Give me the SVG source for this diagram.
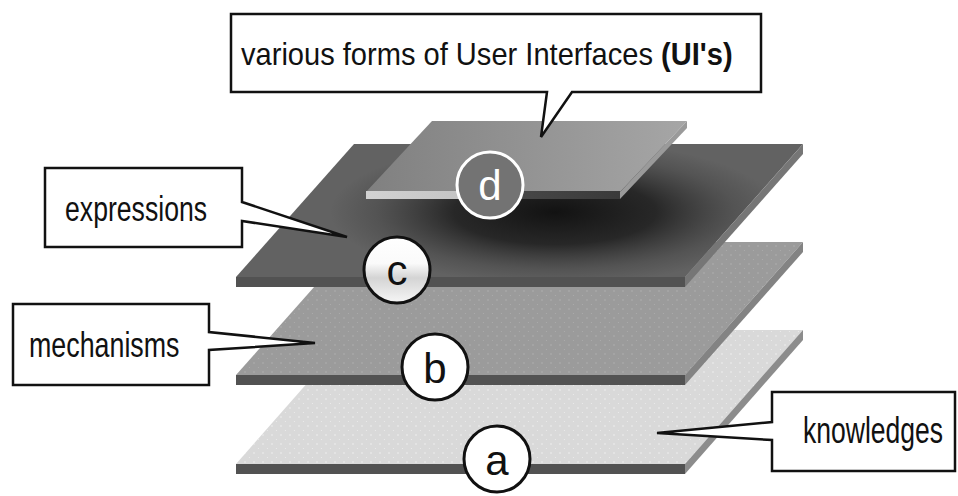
<svg xmlns="http://www.w3.org/2000/svg" width="958" height="496" viewBox="0 0 958 496">
  <defs>
    <style>
      .callout { fill: #ffffff; stroke: #111111; stroke-width: 2.5; stroke-linejoin: miter; }
      .label { font-family: "Liberation Sans", Arial, sans-serif; font-size: 36px; fill: #111111; }
      .toplabel { font-family: "Liberation Sans", Arial, sans-serif; font-size: 31px; fill: #111111; }
      .badge { stroke: #111111; stroke-width: 3; fill: #ffffff; }
      .badge-text { font-family: "Liberation Sans", Arial, sans-serif; font-size: 42px; fill: #111111; text-anchor: middle; }
      .front { fill: #525252; }
    </style>
    <linearGradient id="topD" x1="0" y1="0" x2="1" y2="0">
      <stop offset="0" stop-color="#808080"/>
      <stop offset="1" stop-color="#a6a6a6"/>
    </linearGradient>
    <linearGradient id="edgeD" x1="366" y1="0" x2="620" y2="0" gradientUnits="userSpaceOnUse">
      <stop offset="0" stop-color="#d2d2d2"/>
      <stop offset="0.38" stop-color="#c4c4c4"/>
      <stop offset="0.5" stop-color="#4a4a4a"/>
      <stop offset="1" stop-color="#3a3a3a"/>
    </linearGradient>
    <linearGradient id="badgeC" x1="0" y1="0" x2="0" y2="1">
      <stop offset="0" stop-color="#ffffff"/>
      <stop offset="0.4" stop-color="#fafafa"/>
      <stop offset="0.62" stop-color="#d4d4d4"/>
      <stop offset="1" stop-color="#f6f6f6"/>
    </linearGradient>
    <!-- shade cast by plate d onto plate c -->
    <radialGradient id="shade" gradientUnits="userSpaceOnUse" cx="0" cy="0" r="1"
                    gradientTransform="translate(555,212) scale(225,72)">
      <stop offset="0" stop-color="#0e0e0e" stop-opacity="0.95"/>
      <stop offset="0.45" stop-color="#141414" stop-opacity="0.75"/>
      <stop offset="0.8" stop-color="#2a2a2a" stop-opacity="0.25"/>
      <stop offset="1" stop-color="#2a2a2a" stop-opacity="0"/>
    </radialGradient>
    <pattern id="stipple" width="9" height="9" patternUnits="userSpaceOnUse">
      <circle cx="2" cy="3" r="0.7" fill="#ffffff" opacity="0.7"/>
      <circle cx="6.5" cy="7.5" r="0.6" fill="#ffffff" opacity="0.5"/>
    </pattern>
  </defs>

  <!-- layer a -->
  <g id="plate-a">
    <polygon points="236,464 685,464 803,330 354,330" fill="#d9d9d9"/>
    <polygon points="236,464 685,464 803,330 354,330" fill="url(#stipple)"/>
    <polygon class="front" points="236,464 685,464 685,474 236,474"/>
    <polygon points="685,464 803,330 803,340 685,474" fill="#8c8c8c"/>
  </g>

  <!-- layer b -->
  <g id="plate-b">
    <polygon points="236,375 685,375 803,242 354,242" fill="#9b9b9b"/>
    <polygon points="236,375 685,375 803,242 354,242" fill="url(#stipple)" opacity="0.35"/>
    <polygon class="front" points="236,375 685,375 685,385 236,385"/>
    <polygon points="685,375 803,242 803,252 685,385" fill="#838383"/>
  </g>

  <!-- layer c, with the shade cast by d -->
  <g id="plate-c">
    <polygon points="236,277 685,277 803,144 354,144" fill="#626262"/>
    <polygon points="236,277 685,277 803,144 354,144" fill="url(#shade)"/>
    <polygon class="front" points="236,277 685,277 685,287 236,287" fill="#4a4a4a"/>
    <polygon points="685,277 803,144 803,154 685,287" fill="#767676"/>
  </g>

  <!-- layer d -->
  <g id="plate-d">
    <polygon points="366,192 620,192 687,121 432,121" fill="url(#topD)"/>
    <polygon points="366,191 620,191 620,199 366,199" fill="url(#edgeD)"/>
    <polygon points="620,192 687,121 687,128 620,199" fill="#9a9a9a"/>
  </g>

  <!-- layer badges -->
  <g id="badge-d">
    <circle cx="490" cy="185" r="33" fill="#737373" stroke="#ffffff" stroke-width="3"/>
    <text class="badge-text" x="490" y="200" style="fill:#ffffff">d</text>
  </g>
  <g id="badge-c">
    <circle class="badge" cx="397" cy="270" r="33" style="fill:url(#badgeC)"/>
    <text class="badge-text" x="397" y="285">c</text>
  </g>
  <g id="badge-b">
    <circle class="badge" cx="435" cy="367" r="33"/>
    <text class="badge-text" x="435" y="383">b</text>
  </g>
  <g id="badge-a">
    <circle class="badge" cx="497" cy="459" r="33"/>
    <text class="badge-text" x="497" y="475">a</text>
  </g>

  <!-- callouts; labels are set in a horizontally condensed face -->
  <g id="callout-ui">
    <path class="callout" d="M231,14 H761 V92 H572 L541,137 L547,92 H231 Z"/>
    <text class="toplabel" transform="translate(241,65) scale(0.938,1)">various forms of User Interfaces <tspan font-weight="bold">(UI's)</tspan></text>
  </g>
  <g id="callout-expressions">
    <path class="callout" d="M45,168 H242 V202 L347,237 L242,221 V247 H45 Z"/>
    <text class="label" transform="translate(65,221) scale(0.74,1)">expressions</text>
  </g>
  <g id="callout-mechanisms">
    <path class="callout" d="M13,304 H209 V332 L315,343 L209,350 V385 H13 Z"/>
    <text class="label" transform="translate(29,357) scale(0.745,1)">mechanisms</text>
  </g>
  <g id="callout-knowledges">
    <path class="callout" d="M772,392 H955 V471 H772 V440 L657,433 L772,422 Z"/>
    <text class="label" transform="translate(803,443) scale(0.737,1)">knowledges</text>
  </g>
</svg>
